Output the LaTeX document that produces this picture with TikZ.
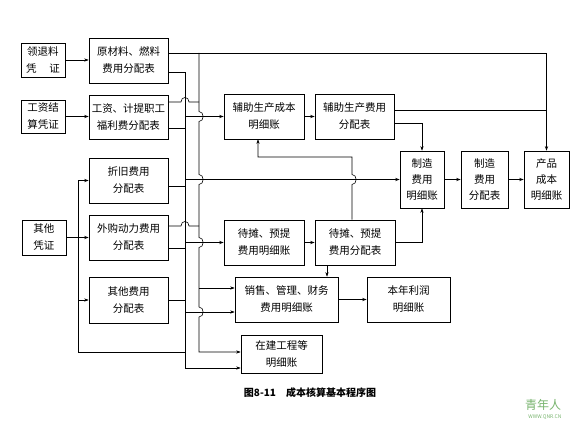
\documentclass[tikz,border=0pt]{standalone}
\usepackage{fontspec}
\setmainfont{Noto Sans CJK SC}
\usetikzlibrary{arrows.meta}
\definecolor{wmgreen}{RGB}{120,180,110}
\begin{document}
\begin{tikzpicture}[x=1pt,y=-1pt,line width=0.6pt,
  bx/.style={draw, inner sep=0pt, align=center, font=\fontsize{10.5}{17}\selectfont},
  bx3/.style={bx, font=\fontsize{10.5}{16}\selectfont},
  ar/.style={-{Stealth[length=4.5pt,width=3.2pt]}}]
\useasboundingbox (0,0) rectangle (582,425);
% boxes
\node[bx, minimum width=44pt, minimum height=34pt] (lingtui) at (43,60) {领退料\\凭\hspace{1.2em}证};
\node[bx, minimum width=79pt, minimum height=45pt] (yuancl) at (128.5,60.5) {原材料、燃料\\费用分配表};
\node[bx, minimum width=44pt, minimum height=33pt] (gzpz) at (43,116.5) {工资结\\算凭证};
\node[bx, minimum width=79pt, minimum height=44pt] (gzfp) at (128.5,117) {工资、计提职工\\福利费分配表};
\node[bx, minimum width=80pt, minimum height=45pt] (fzcb) at (264,116.5) {辅助生产成本\\明细账};
\node[bx, minimum width=79pt, minimum height=45pt] (fzfp) at (354.5,116.5) {辅助生产费用\\分配表};
\node[bx, minimum width=79pt, minimum height=45pt] (zhejiu) at (128.5,180.5) {折旧费用\\分配表};
\node[bx, minimum width=44pt, minimum height=35pt] (qtpz) at (44,237.5) {其他\\凭证};
\node[bx, minimum width=79pt, minimum height=45pt] (waigou) at (128.5,237.5) {外购动力费用\\分配表};
\node[bx, minimum width=79pt, minimum height=46pt] (qtfy) at (128.5,300) {其他费用\\分配表};
\node[bx, minimum width=80pt, minimum height=45pt] (dtmx) at (264,242.5) {待摊、预提\\费用明细账};
\node[bx, minimum width=80pt, minimum height=45pt] (dtfp) at (355,242.5) {待摊、预提\\费用分配表};
\node[bx3, minimum width=44pt, minimum height=57pt] (zzmx) at (422,179.5) {制造\\费用\\明细账};
\node[bx3, minimum width=47pt, minimum height=57pt] (zzfp) at (484.5,179.5) {制造\\费用\\分配表};
\node[bx3, minimum width=45pt, minimum height=57pt] (cpcb) at (546.5,179.5) {产品\\成本\\明细账};
\node[bx, minimum width=103pt, minimum height=45pt] (xsgl) at (286.5,299.5) {销售、管理、财务\\费用明细账};
\node[bx, minimum width=83pt, minimum height=45pt] (bnlr) at (408.5,299.5) {本年利润\\明细账};
\node[bx, minimum width=81pt, minimum height=38pt] (zjgc) at (281.5,354) {在建工程等\\明细账};
\node[font=\bfseries\fontsize{10}{12}\selectfont] (cap) at (310,393) {图8-11\quad 成本核算基本程序图};
\node[text=wmgreen, font=\fontsize{12}{12}\selectfont] (wm1) at (543,405) {青年人};
\node[text=wmgreen, font=\fontsize{5}{5}\selectfont] (wm2) at (545,417) {WWW.QNR.CN};

% coordinates
\coordinate (tr) at (546.5,53);
\coordinate (tB) at (199,53);
\coordinate (tA) at (185,72);
\coordinate (bA) at (185,368);
\coordinate (qb1) at (78,180.5);
\coordinate (qb2) at (78,352);
\coordinate (qb3) at (78,300);

% simple arrows
\draw[ar] (lingtui.east) -- (lingtui.east -| yuancl.west);
\draw[ar] (gzpz.east) -- (gzpz.east -| gzfp.west);
\draw[ar] (qtpz.east) -- (waigou.west);
\draw[ar] (fzcb.east) -- (fzfp.west);
\draw[ar] (zzmx.east) -- (zzfp.west);
\draw[ar] (zzfp.east) -- (cpcb.west);
\draw[ar] (dtmx.east) -- (dtfp.west);
\draw[ar] (xsgl.east) -- (bnlr.west);

% other vouchers bus
\draw[ar] (qb1) -- (qb1 -| zhejiu.west);
\draw[ar] (qb3) -- (qb3 -| qtfy.west);
\draw (qb1) -- (qb2) -- (qb2 -| bA);

% top line to product cost
\draw[ar] (yuancl.east |- tr) -- (tr) -- (cpcb.north);

% bus B
\draw[ar] (tB) -- (199,111.5) .. controls (204.5,111.5) and (204.5,121.5) .. (199,121.5)
  -- (199,174.5) .. controls (204.5,174.5) and (204.5,184.5) .. (199,184.5)
  -- (199,237.5) .. controls (204.5,237.5) and (204.5,247.5) .. (199,247.5)
  -- (199,307) .. controls (204.5,307) and (204.5,317) .. (199,317)
  -- (199,352) -- (zjgc.west |- 0,352);

% bus A
\draw (yuancl.east |- tA) -- (tA) -- (bA);
\draw[ar] (bA) -- (bA -| zjgc.west);

% into bus A
\draw (gzfp.east |- 0,128) -- (185,128);
\draw (zhejiu.east |- 0,186) -- (185,186);
\draw (waigou.east |- 0,248) -- (185,248);
\draw (qtfy.east) -- (qtfy.east -| tA);

% into bus B hopping over bus A
\draw (gzfp.east |- 0,102) -- (181,102) .. controls (181,96) and (189,96) .. (189,102) -- (199,102);
\draw (waigou.east |- 0,226) -- (181,226) .. controls (181,220) and (189,220) .. (189,226) -- (199,226);

% out of bus A
\draw[ar] (tA |- fzcb.west) -- (fzcb.west);
\draw[ar] (tA |- zzmx.west) -- (zzmx.west);
\draw[ar] (tA |- dtmx.west) -- (dtmx.west);
\draw[ar] (185,312) -- (xsgl.west |- 0,312);
% out of bus B
\draw[ar] (199,288) -- (xsgl.west |- 0,288);

% auxiliary allocation outputs
\draw (fzfp.east |- 0,110) -- (tr |- 0,110);
\draw[ar] (fzfp.east |- 0,123) -- (zzmx.north |- 0,123) -- (zzmx.north);
% deferred allocation outputs
\draw[ar] (dtfp.east) -- (dtfp.east -| zzmx.south) -- (zzmx.south);
\draw[ar] (dtfp.south -| 327,0) -- (xsgl.north -| 327,0);
\draw[ar] (dtfp.north -| 352,0) -- (352,184.5) .. controls (357.5,184.5) and (357.5,174.5) .. (352,174.5)
  -- (352,157) -- (258,157) -- (fzcb.south -| 258,0);
\end{tikzpicture}
\end{document}
